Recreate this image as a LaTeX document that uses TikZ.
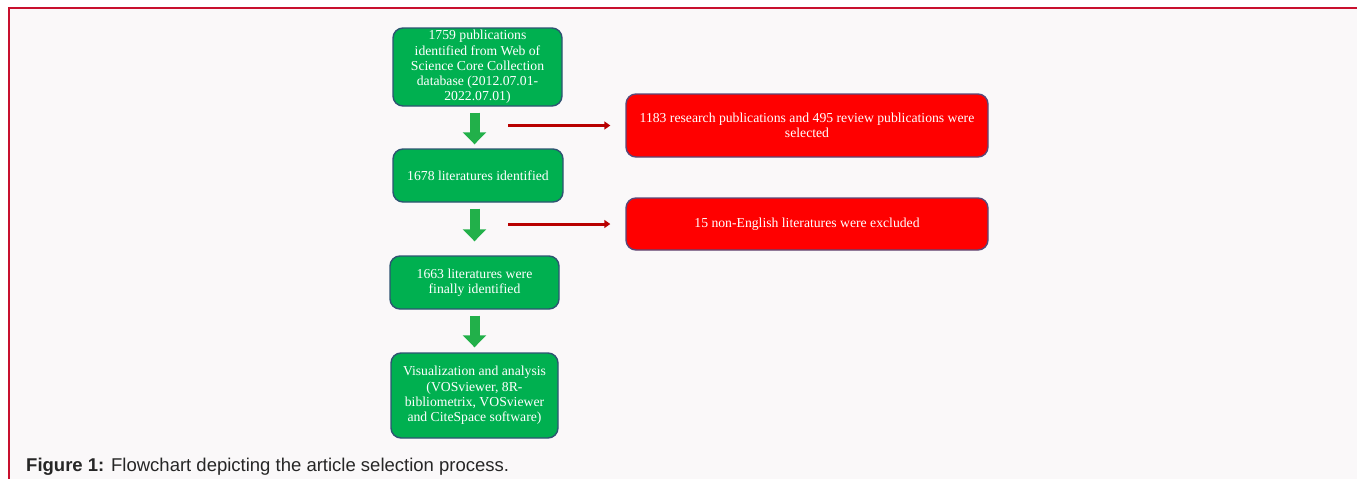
\documentclass[tikz,border=0pt]{standalone}
\usepackage{fontspec}
\setmainfont{Liberation Serif}
\newfontfamily\capfont{Liberation Sans}
\usetikzlibrary{arrows.meta,calc}
\definecolor{bggray}{HTML}{FAF8F9}
\definecolor{framered}{HTML}{C8102E}
\definecolor{boxgreen}{HTML}{00B050}
\definecolor{boxedge}{HTML}{2E5472}
\definecolor{boxred}{HTML}{FF0000}
\definecolor{rededge}{HTML}{5A4878}
\definecolor{arrred}{HTML}{B80000}
\definecolor{arrgreen}{HTML}{22B04A}
\tikzset{
  gbox/.style={draw=boxedge, line width=1.4pt, fill=boxgreen, rounded corners=10pt,
    text=white, align=center, font=\fontsize{13.7}{15.2}\selectfont, inner sep=0pt},
  rbox/.style={draw=rededge, line width=1.4pt, fill=boxred, rounded corners=10pt,
    text=white, align=center, font=\fontsize{13.7}{15.2}\selectfont, inner sep=0pt},
  garrow/.style={draw=arrgreen, line width=10pt, -{Triangle[width=23pt,length=12pt]}},
  rarrow/.style={draw=arrred, line width=3pt, -{Triangle[width=8pt,length=6pt]}}
}
\begin{document}
\begin{tikzpicture}[x=1pt,y=-1pt]
\useasboundingbox (0,0) rectangle (1357,479);
\fill[white] (0,0) rectangle (1357,479);
\fill[bggray] (9,8) rectangle (1357,479);
\draw[framered, line width=2pt] (9,479) -- (9,8) -- (1357,8);

\node[gbox, minimum width=169pt, minimum height=78pt] (b1) at (477.5,67)
  {1759 publications\\identified from Web of\\Science Core Collection\\database (2012.07.01-\\2022.07.01)};
\node[gbox, minimum width=170pt, minimum height=53pt] (b2) at (478,175.5)
  {1678 literatures identified};
\node[gbox, minimum width=169pt, minimum height=53pt] (b3) at (474.5,282.5)
  {1663 literatures were\\finally identified};
\node[gbox, minimum width=167pt, minimum height=85pt] (b4) at (474.5,395.5)
  {Visualization and analysis\\(VOSviewer, 8R-\\bibliometrix, VOSviewer\\and CiteSpace software)};

\node[rbox, minimum width=362pt, minimum height=63pt] (r1) at (807,125.5)
  {1183 research publications and 495 review publications were\\selected};
\node[rbox, minimum width=362pt, minimum height=52pt] (r2) at (807,224)
  {15 non-English literatures were excluded};

\draw[garrow, shorten <=6pt, shorten >=4pt] (b1.south -| b3.center) -- (b2.north -| b3.center);
\draw[garrow, shorten <=6pt, shorten >=14pt] (b2.south -| b3.center) -- (b3.north);
\draw[garrow, shorten <=6pt, shorten >=5pt] (b3.south) -- (b4.north -| b3.center);

\coordinate (s1) at (508,125.5);
\coordinate (s2) at (508,224);
\draw[rarrow, shorten >=15pt] (s1) -- (r1.west);
\draw[rarrow, shorten >=15pt] (s2) -- (r2.west);

\node[anchor=base west, inner sep=0pt, font=\capfont\fontsize{18.5}{22}\selectfont, text=black!85] (cap) at (26,471)
  {\textbf{Figure 1:} Flowchart depicting the article selection process.};
\end{tikzpicture}
\end{document}
